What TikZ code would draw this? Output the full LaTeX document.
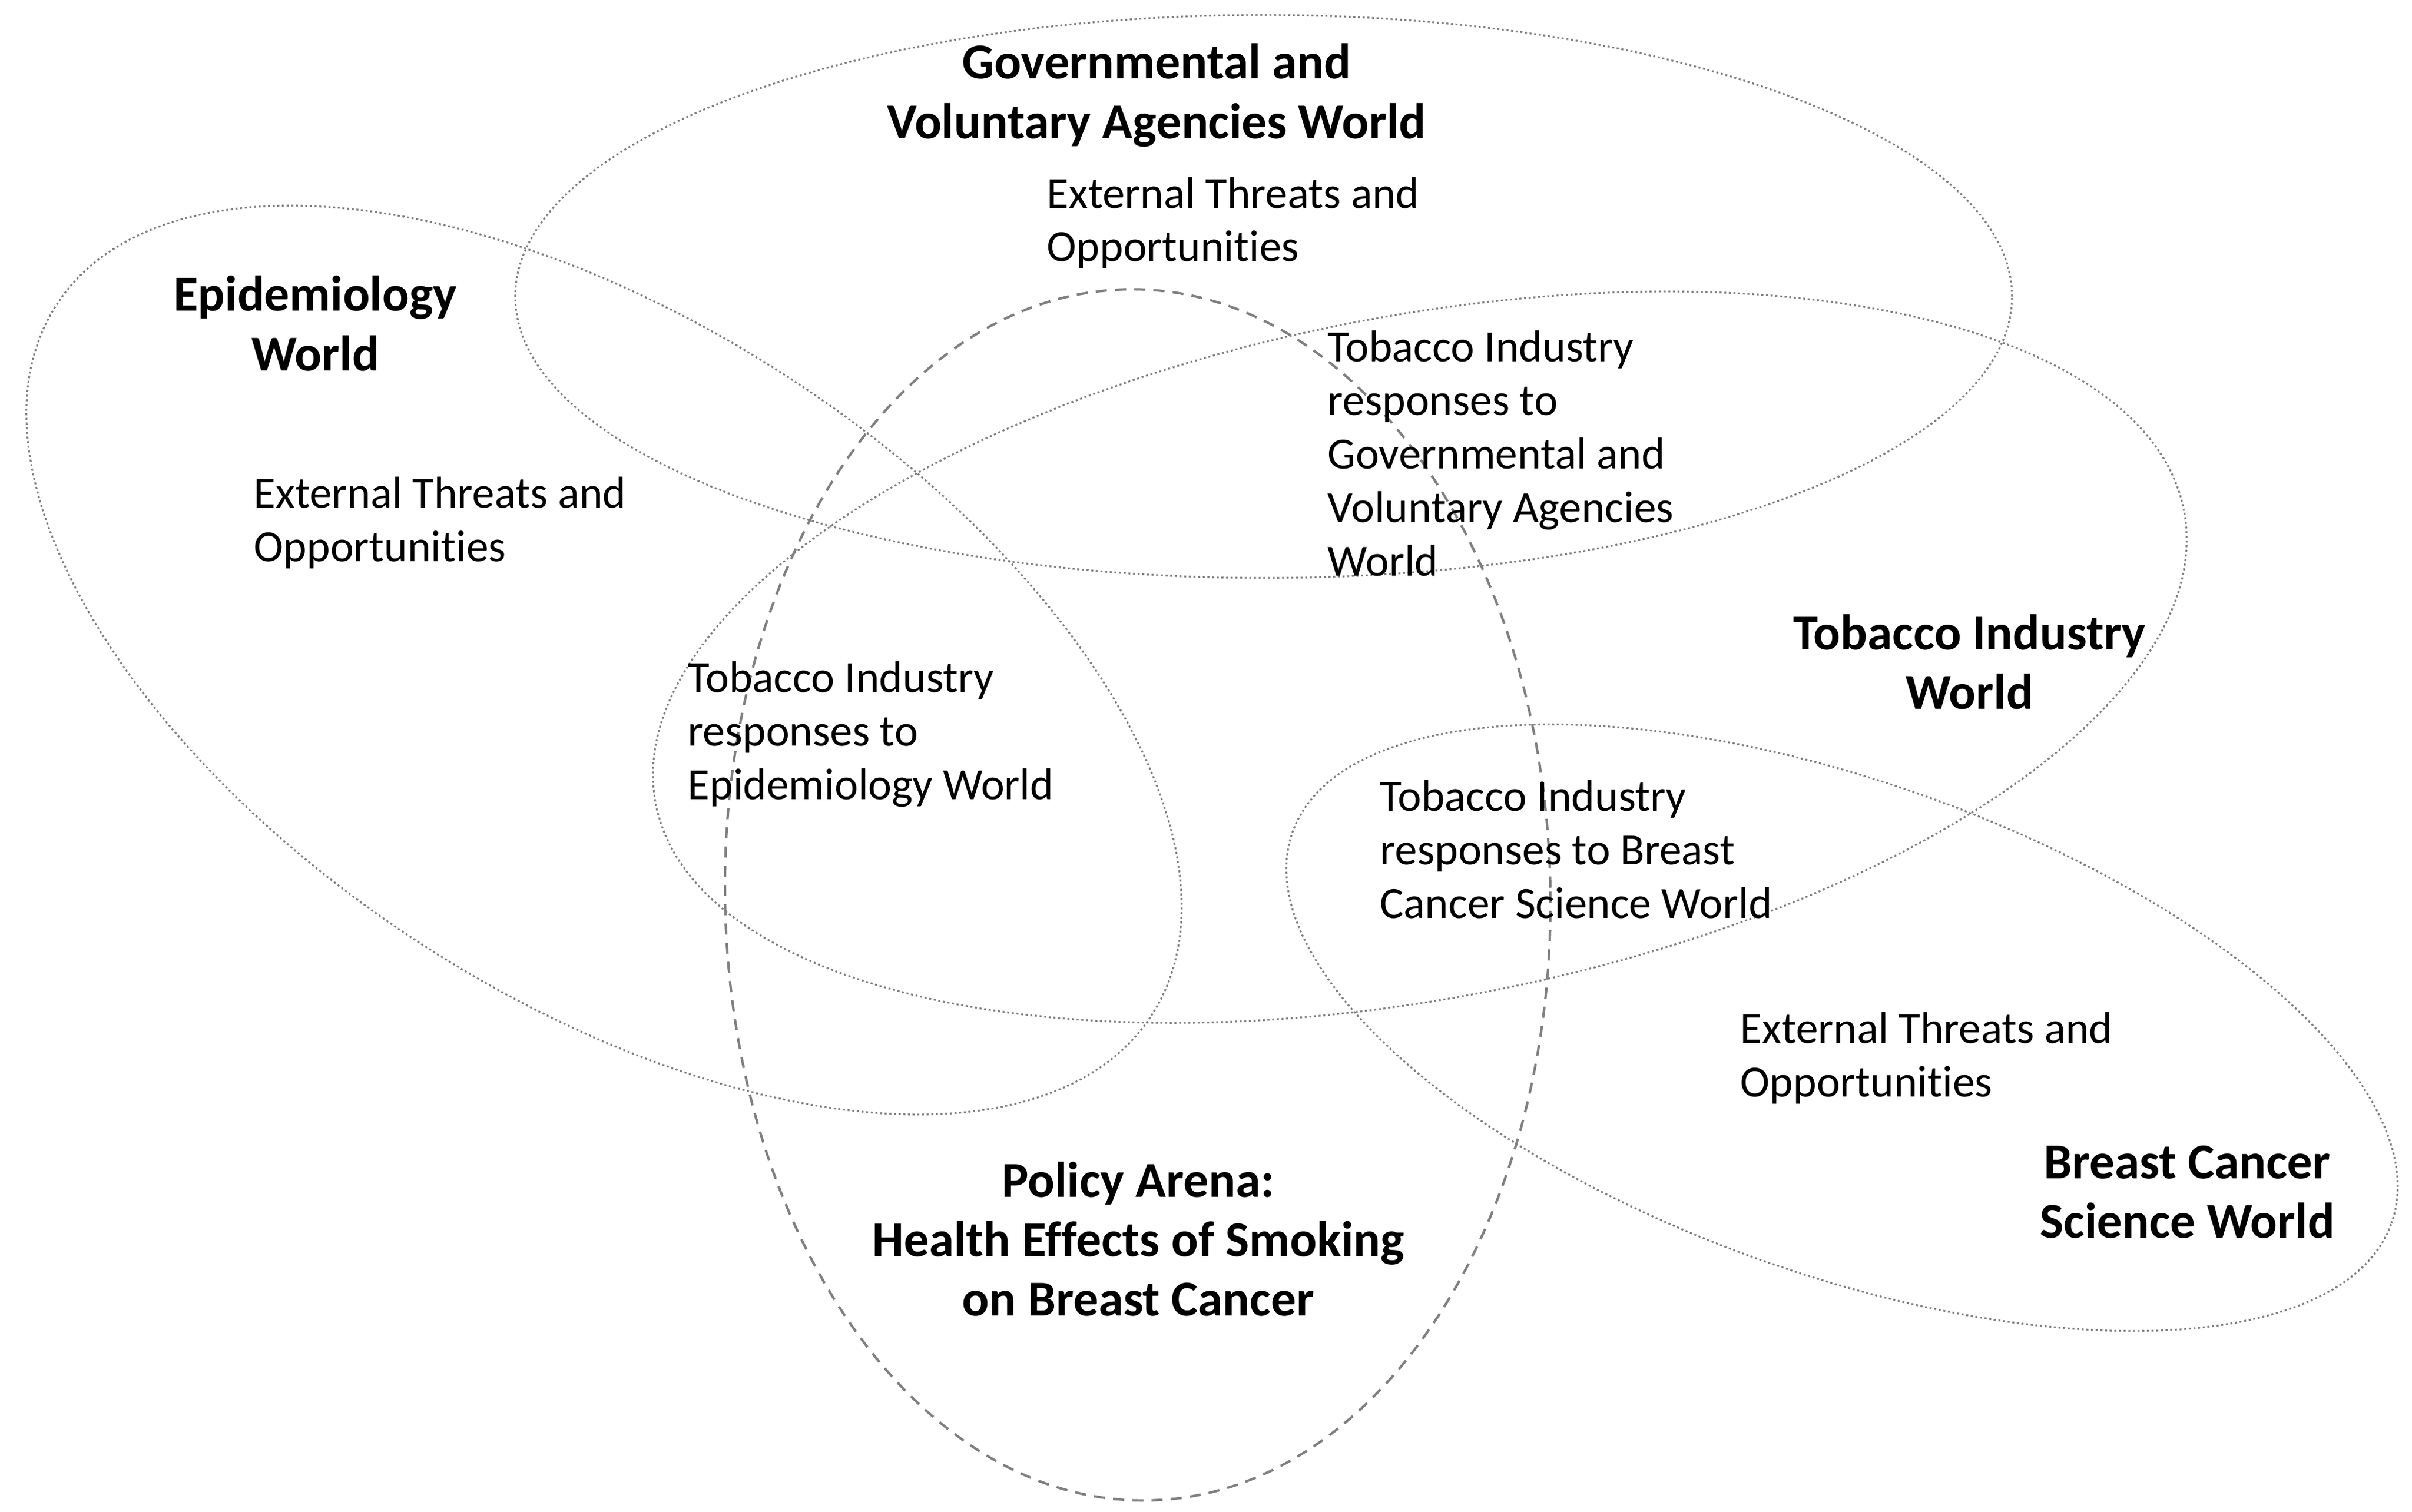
\documentclass[tikz,border=0pt]{standalone}
\usepackage{fontspec}
\setmainfont{Carlito}[Ligatures=NoCommon]
\definecolor{linegray}{RGB}{128,128,128}
\begin{document}
\begin{tikzpicture}[
  worldline/.style={draw=linegray, line width=0.9pt, dash pattern=on 1pt off 1.3pt},
  arenaline/.style={draw=linegray, line width=1.2pt, dash pattern=on 5.5pt off 4pt},
  bodytext/.style={font=\fontsize{22.0}{26.4}\selectfont, align=left, anchor=north west, inner sep=0pt},
  titletext/.style={font=\bfseries\fontsize{24.8}{29.4}\selectfont, align=center, anchor=north, inner sep=0pt}]
\useasboundingbox (0,0) rectangle (41.85,-26.23);
% worlds
\draw[worldline] (21.925,-5.145) ellipse [x radius=12.985cm, y radius=4.885cm];
\draw[worldline, rotate around={-33:(10.48,-11.455)}] (10.48,-11.455) ellipse [x radius=11.325cm, y radius=5.858cm];
\draw[worldline, rotate around={10.85:(24.635,-11.405)}] (24.635,-11.405) ellipse [x radius=13.50cm, y radius=5.92cm];
\draw[worldline, rotate around={-19.6:(31.96,-17.835)}] (31.96,-17.835) ellipse [x radius=10.12cm, y radius=4.27cm];
% policy arena
\draw[arenaline, rotate around={1:(19.74,-15.53)}] (19.74,-15.53) ellipse [x radius=7.16cm, y radius=10.51cm];
% texts
\node[titletext] (govtitle) at (20.07,-0.638) {\strut Governmental and\\Voluntary Agencies World};
\node[bodytext] (govext) at (18.16,-2.954) {\strut External Threats and\\Opportunities};
\node[titletext] (epititle) at (5.47,-4.668) {\strut Epidemiology\\World};
\node[bodytext] (epiext) at (4.40,-8.159) {\strut External Threats and\\Opportunities};
\node[bodytext] (tigov) at (23.03,-5.623) {\strut Tobacco Industry\\responses to\\Governmental and\\Voluntary Agencies\\World};
\node[titletext] (tititle) at (34.17,-10.54) {\strut Tobacco Industry\\World};
\node[bodytext] (tiepi) at (11.93,-11.36) {\strut Tobacco Industry\\responses to\\Epidemiology World};
\node[bodytext] (tibc) at (23.94,-13.42) {\strut Tobacco Industry\\responses to Breast\\Cancer Science World};
\node[bodytext] (bcext) at (30.19,-17.45) {\strut External Threats and\\Opportunities};
\node[titletext] (bctitle) at (37.95,-19.72) {\strut Breast Cancer\\Science World};
\node[titletext] (policy) at (19.75,-20.04) {\strut Policy Arena:\\Health Effects of Smoking\\on Breast Cancer};
\end{tikzpicture}
\end{document}
